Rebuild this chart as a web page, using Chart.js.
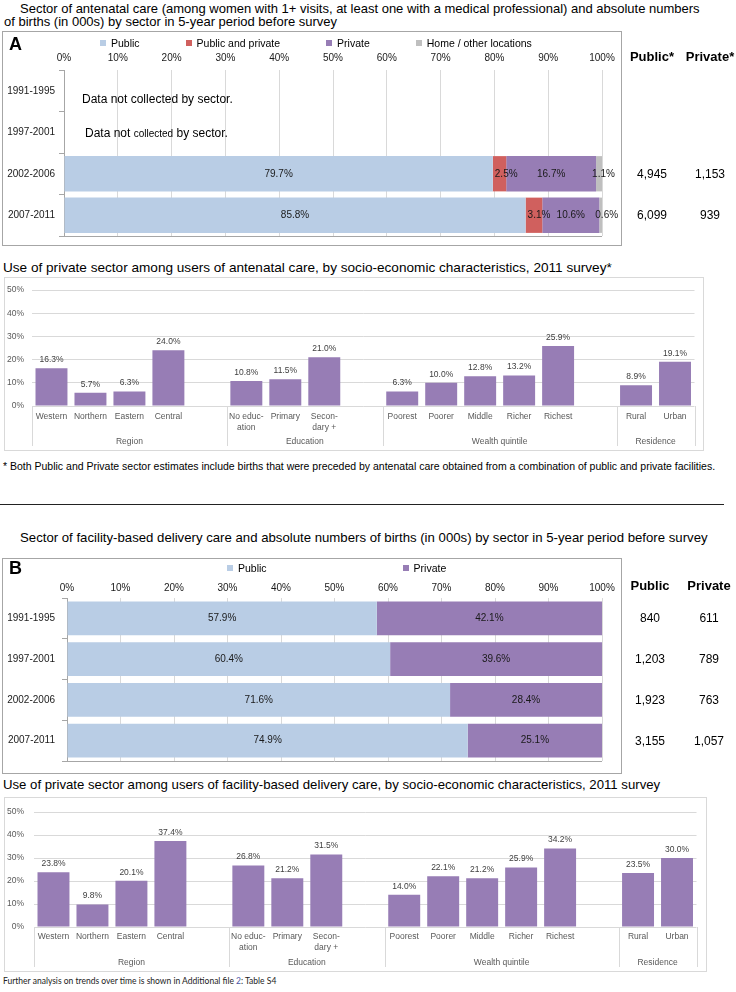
<!DOCTYPE html>
<html>
<head>
<meta charset="utf-8">
<script src="https://cdn.jsdelivr.net/npm/chart.js@4.4.1/dist/chart.umd.min.js"></script>
<style>
  body { margin:0; width:736px; height:992px; position:relative; background:#fff; font-family:"Liberation Sans", Arial, sans-serif; color:#000; overflow:hidden; }
  .abs { position:absolute; white-space:nowrap; }
  .box { position:absolute; box-sizing:border-box; }
  .panel { border:1px solid #A6A6A6; }
  .soc { border:1px solid #D9D9D9; }
  .title { font-size:13px; line-height:14px; }
  .legend { position:absolute; display:flex; font-size:10.5px; line-height:12px; white-space:nowrap; }
  .legend i { display:inline-block; width:6px; height:6px; margin-right:5px; vertical-align:1px; }
  .letter { font-weight:bold; font-size:18px; line-height:20px; }
  .col { position:absolute; width:70px; text-align:center; font-size:12px; line-height:14px; }
  .hdr { font-weight:bold; font-size:13px; }
  .note { font-size:10.5px; line-height:12px; }
</style>
</head>
<body>

<div class="abs title" style="left:20px;top:2px">Sector of antenatal care (among women with 1+ visits, at least one with a medical professional) and absolute numbers</div>
<div class="abs title" style="left:4px;top:15px">of births (in 000s) by sector in 5-year period before survey</div>

<div class="box panel" style="left:2px;top:31px;width:620px;height:215px"></div>
<div class="box" id="wrapA" style="left:2px;top:31px;width:620px;height:215px"><canvas id="chartA"></canvas></div>
<div class="abs letter" style="left:9px;top:34px">A</div>
<div id="legendA" class="legend" style="left:100px;top:37px;gap:46px"></div>
<div class="abs" style="left:82px;top:92px;font-size:12px">Data not collected by sector.</div>
<div class="abs" style="left:85px;top:126px;font-size:12px">Data not <span style="font-size:10px">collected</span> by sector.</div>
<div id="tableA"></div>

<div class="abs" style="left:3px;top:260px;font-size:13.6px;line-height:16px">Use of private sector among users of antenatal care, by socio-economic characteristics, 2011 survey*</div>
<div class="box soc" style="left:4px;top:277px;width:700px;height:174px"></div>
<div class="box" style="left:4px;top:277px;width:700px;height:174px"><canvas id="chartANC"></canvas></div>
<div class="abs note" style="left:3px;top:460px">* Both Public and Private sector estimates include births that were preceded by antenatal care obtained from a combination of public and private facilities.</div>

<div class="abs" style="left:0;top:504px;width:724px;height:1px;background:#222"></div>

<div class="abs" style="left:20px;top:530px;font-size:13.2px;line-height:15px">Sector of facility-based delivery care and absolute numbers of births (in 000s) by sector in 5-year period before survey</div>

<div class="box panel" style="left:2px;top:558px;width:620px;height:216px"></div>
<div class="box" id="wrapB" style="left:2px;top:558px;width:620px;height:216px"><canvas id="chartB"></canvas></div>
<div class="abs letter" style="left:9px;top:558px">B</div>
<div id="legendB" class="legend" style="left:227px;top:562px;gap:136px"></div>
<div id="tableB"></div>

<div class="abs" style="left:3px;top:777px;font-size:13.2px;line-height:16px">Use of private sector among users of facility-based delivery care, by socio-economic characteristics, 2011 survey</div>
<div class="box soc" style="left:4px;top:797px;width:703px;height:175px"></div>
<div class="box" style="left:4px;top:797px;width:703px;height:175px"><canvas id="chartDEL"></canvas></div>
<div class="abs" style="left:3px;top:975px;font-family:Lato, sans-serif;font-size:8.5px;line-height:12px;color:#222">Further analysis on trends over time is shown in Additional file <span style="color:#4a56a6">2</span>: Table S4</div>

<script>
// ---- data ----
var periods = ['1991-1995', '1997-2001', '2002-2006', '2007-2011'];

// A: antenatal care sector (%)
var ancSeries = ['Public', 'Public and private', 'Private', 'Home / other locations'];
var ancPublic = [null, null, 79.7, 85.8];
var ancMixed = [null, null, 2.5, 3.1];
var ancPrivate = [null, null, 16.7, 10.6];
var ancHome = [null, null, 1.1, 0.6];
var ancBirthsPublic = [null, null, 4945, 6099];
var ancBirthsPrivate = [null, null, 1153, 939];

// B: delivery care sector (%)
var delSeries = ['Public', 'Private'];
var delPublic = [57.9, 60.4, 71.6, 74.9];
var delPrivate = [42.1, 39.6, 28.4, 25.1];
var delBirthsPublic = [840, 1203, 1923, 3155];
var delBirthsPrivate = [611, 789, 763, 1057];

// socio-economic breakdown (blank slots separate the groups)
var socioLabels = ['Western', 'Northern', 'Eastern', 'Central', '',
  ['No educ-', 'ation'], 'Primary', ['Secon-', 'dary +'], '',
  'Poorest', 'Poorer', 'Middle', 'Richer', 'Richest', '',
  'Rural', 'Urban'];
var groupNames = ['Region', 'Education', 'Wealth quintile', 'Residence'];
var groupStarts = [0, 5, 9, 15];
var ancPrivateUse = [16.3, 5.7, 6.3, 24.0, null, 10.8, 11.5, 21.0, null, 6.3, 10.0, 12.8, 13.2, 25.9, null, 8.9, 19.1];
var delPrivateUse = [23.8, 9.8, 20.1, 37.4, null, 26.8, 21.2, 31.5, null, 14.0, 22.1, 21.2, 25.9, 34.2, null, 23.5, 30.0];
var pctTicks = [0, 10, 20, 30, 40, 50];

var colPublic = '#B9CDE5', colMixed = '#D0605E', colPrivate = '#977DB5', colHome = '#BFBFBF';
var FONT = '"Liberation Sans", Arial, sans-serif';

Chart.defaults.font.family = FONT;
Chart.defaults.animation = false;
Chart.defaults.plugins.legend.display = false;
Chart.defaults.plugins.tooltip.enabled = false;

// labels inside the stacked bars
var stackLabels = {
  id: 'stackLabels',
  afterDatasetsDraw: function(chart) {
    var ctx = chart.ctx;
    ctx.save();
    ctx.font = '10px ' + FONT;
    ctx.fillStyle = '#1a1a1a';
    ctx.textBaseline = 'middle';
    chart.data.datasets.forEach(function(ds, di) {
      chart.getDatasetMeta(di).data.forEach(function(bar, i) {
        var v = ds.data[i];
        if (v == null) return;
        var p = bar.getProps(['x', 'y', 'base'], true);
        var txt = v.toFixed(1) + '%';
        if (ds.labelMode === 'start') {
          ctx.textAlign = 'left'; ctx.fillText(txt, p.base + 2, p.y);
        } else if (ds.labelMode === 'after') {
          ctx.textAlign = 'left'; ctx.fillText(txt, p.base - 4, p.y);
        } else {
          ctx.textAlign = 'center'; ctx.fillText(txt, (p.x + p.base) / 2, p.y);
        }
      });
    });
    // bottom frame line of the plot
    var a = chart.chartArea;
    ctx.strokeStyle = '#A6A6A6';
    ctx.lineWidth = 1;
    ctx.beginPath();
    ctx.moveTo(a.left, Math.round(a.bottom) + 0.5);
    ctx.lineTo(a.right, Math.round(a.bottom) + 0.5);
    ctx.stroke();
    ctx.restore();
  }
};

// value labels + grouped category axis
var groupAxis = {
  id: 'groupAxis',
  afterDatasetsDraw: function(chart) {
    var ctx = chart.ctx, a = chart.chartArea, xs = chart.scales.x;
    ctx.save();
    ctx.font = '8.5px ' + FONT;
    ctx.fillStyle = '#404040';
    ctx.textAlign = 'center';
    ctx.textBaseline = 'middle';
    var ds = chart.data.datasets[0];
    chart.getDatasetMeta(0).data.forEach(function(bar, i) {
      var v = ds.data[i];
      if (v == null) return;
      ctx.fillText(v.toFixed(1) + '%', bar.x, bar.y - 8.5);
    });
    var edges = groupStarts.map(function(s) {
      return s === 0 ? a.left : (xs.getPixelForValue(s - 1) + xs.getPixelForValue(s)) / 2;
    });
    edges.push(a.right);
    ctx.strokeStyle = '#D9D9D9';
    ctx.lineWidth = 1;
    edges.forEach(function(x) {
      x = Math.round(x) + 0.5;
      ctx.beginPath();
      ctx.moveTo(x, a.bottom);
      ctx.lineTo(x, a.bottom + 40);
      ctx.stroke();
    });
    ctx.fillStyle = '#595959';
    groupNames.forEach(function(name, g) {
      ctx.fillText(name, (edges[g] + edges[g + 1]) / 2, a.bottom + 36);
    });
    ctx.restore();
  }
};

function sectorChart(id, datasets, opt) {
  return new Chart(document.getElementById(id), {
    type: 'bar',
    data: { labels: periods, datasets: datasets },
    options: {
      indexAxis: 'y',
      responsive: true,
      maintainAspectRatio: false,
      layout: { padding: { left: 0, right: 20, top: opt.top, bottom: opt.bottom } },
      scales: {
        x: {
          position: 'top', stacked: true, min: 0, max: 100,
          ticks: { stepSize: 10, padding: opt.tickPad, color: '#1a1a1a', font: { size: 10 },
                   callback: function(v) { return v + '%'; } },
          grid: { color: '#D9D9D9', drawTicks: false },
          border: { display: false },
          afterFit: function(s) { s.height = 20; }
        },
        y: {
          stacked: true,
          ticks: { padding: opt.labelPad, color: '#1a1a1a', font: { size: 10 } },
          grid: { drawOnChartArea: false, tickLength: 5, color: '#A6A6A6' },
          border: { color: '#A6A6A6' },
          afterFit: function(s) { s.width = opt.axisW; }
        }
      }
    },
    plugins: [stackLabels]
  });
}

function socioChart(id, values, opt) {
  return new Chart(document.getElementById(id), {
    type: 'bar',
    data: {
      labels: socioLabels,
      datasets: [{ data: values, backgroundColor: colPrivate, barPercentage: 0.82, categoryPercentage: 1 }]
    },
    options: {
      responsive: true,
      maintainAspectRatio: false,
      layout: { padding: { left: 0, right: opt.right, top: opt.top, bottom: 0 } },
      scales: {
        x: {
          ticks: { autoSkip: false, maxRotation: 0, padding: opt.xPad, color: '#595959', font: { size: 8.5 } },
          grid: { display: false, drawTicks: false },
          border: { display: false },
          afterFit: function(s) { s.height = 45; }
        },
        y: {
          min: 0, max: 50,
          afterBuildTicks: function(s) { s.ticks = pctTicks.map(function(v) { return { value: v }; }); },
          ticks: { padding: opt.labelPad, color: '#595959', font: { size: 8.5 },
                   callback: function(v) { return v + '%'; } },
          grid: { color: '#D9D9D9', drawTicks: false },
          border: { display: false },
          afterFit: function(s) { s.width = opt.axisW; }
        }
      }
    },
    plugins: [groupAxis]
  });
}

function legend(elId, names, colors) {
  var el = document.getElementById(elId);
  names.forEach(function(n, i) {
    var s = document.createElement('span');
    s.innerHTML = '<i style="background:' + colors[i] + '"></i>' + n;
    el.appendChild(s);
  });
}

function table(elId, chart, wrapTop, heads, cx, headY, pub, priv) {
  var el = document.getElementById(elId);
  function put(txt, x, y, cls) {
    var d = document.createElement('div');
    d.className = 'col' + (cls ? ' ' + cls : '');
    d.style.left = (x - 35) + 'px';
    d.style.top = (y - 7) + 'px';
    d.textContent = txt;
    el.appendChild(d);
  }
  put(heads[0], cx[0], headY, 'hdr');
  put(heads[1], cx[1], headY, 'hdr');
  pub.forEach(function(v, i) {
    if (v == null) return;
    var y = wrapTop + chart.scales.y.getPixelForValue(i);
    put(v.toLocaleString('en-US'), cx[0], y);
    put(priv[i].toLocaleString('en-US'), cx[1], y);
  });
}

var chartA = sectorChart('chartA', [
  { label: ancSeries[0], data: ancPublic, backgroundColor: colPublic, barPercentage: 0.85, categoryPercentage: 1 },
  { label: ancSeries[1], data: ancMixed, backgroundColor: colMixed, barPercentage: 0.85, categoryPercentage: 1, labelMode: 'start' },
  { label: ancSeries[2], data: ancPrivate, backgroundColor: colPrivate, barPercentage: 0.85, categoryPercentage: 1 },
  { label: ancSeries[3], data: ancHome, backgroundColor: colHome, barPercentage: 0.85, categoryPercentage: 1, labelMode: 'after' }
], { top: 19, bottom: 6, tickPad: 6, labelPad: 4, axisW: 62 });

var chartB = sectorChart('chartB', [
  { label: delSeries[0], data: delPublic, backgroundColor: colPublic, barPercentage: 0.83, categoryPercentage: 1 },
  { label: delSeries[1], data: delPrivate, backgroundColor: colPrivate, barPercentage: 0.83, categoryPercentage: 1 }
], { top: 20, bottom: 7, tickPad: 4, labelPad: 7, axisW: 65 });

socioChart('chartANC', ancPrivateUse, { right: 9.5, top: 10, labelPad: 8, axisW: 28, xPad: 6 });
socioChart('chartDEL', delPrivateUse, { right: 10.5, top: 11, labelPad: 10, axisW: 30, xPad: 5 });

legend('legendA', ancSeries, [colPublic, colMixed, colPrivate, colHome]);
legend('legendB', delSeries, [colPublic, colPrivate]);
table('tableA', chartA, 31, ['Public*', 'Private*'], [652, 710], 57, ancBirthsPublic, ancBirthsPrivate);
table('tableB', chartB, 558, ['Public', 'Private'], [650, 709], 586, delBirthsPublic, delBirthsPrivate);
</script>
</body>
</html>
